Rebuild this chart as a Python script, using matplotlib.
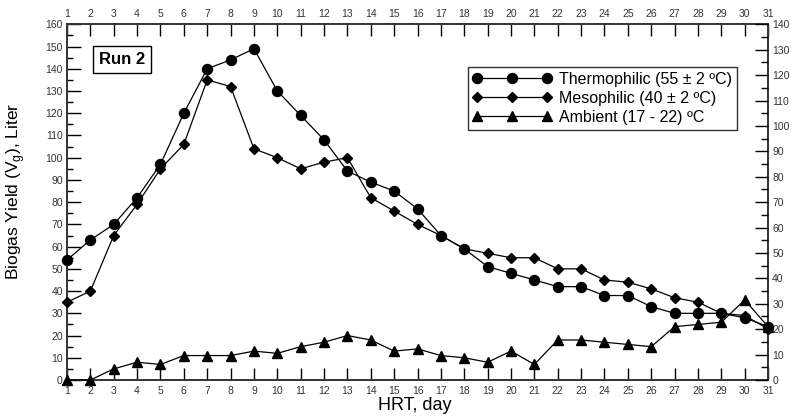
import matplotlib
matplotlib.use("Agg")
import matplotlib.pyplot as plt
from matplotlib.ticker import MultipleLocator

plt.rcParams['font.family'] = ['Liberation Sans', 'DejaVu Sans']

days = list(range(1, 32))
thermophilic = [54, 63, 70, 82, 97, 120, 140, 144, 149, 130, 119, 108, 94, 89, 85, 77,
                65, 59, 51, 48, 45, 42, 42, 38, 38, 33, 30, 30, 30, 28, 24]
mesophilic = [35, 40, 65, 79, 95, 106, 135, 132, 104, 100, 95, 98, 100, 82, 76, 70,
              65, 59, 57, 55, 55, 50, 50, 45, 44, 41, 37, 35, 30, 29, 23]
ambient = [0, 0, 5, 8, 7, 11, 11, 11, 13, 12, 15, 17, 20, 18, 13, 14,
           11, 10, 8, 13, 7, 18, 18, 17, 16, 15, 24, 25, 26, 36, 24]

labels = ["Thermophilic (55 \u00b1 2 \u00baC)", "Mesophilic (40 \u00b1 2 \u00baC)",
          "Ambient (17 - 22) \u00baC"]

fig = plt.figure(figsize=(7.91, 4.16), dpi=100)
ax = fig.add_axes([0.0847, 0.0865, 0.8863, 0.8551])

ax.plot(days, thermophilic, color='black', lw=0.9, marker='o', ms=7.2,
        label=labels[0], clip_on=False, zorder=3)
ax.plot(days, mesophilic, color='black', lw=0.9, marker='D', ms=5.0,
        label=labels[1], clip_on=False, zorder=3)
ax.plot(days, ambient, color='black', lw=0.9, marker='^', ms=7.0,
        label=labels[2], clip_on=False, zorder=3)

ax.set_xlim(1, 31)
ax.set_ylim(0, 160)
ax.xaxis.set_major_locator(MultipleLocator(1))
ax.yaxis.set_major_locator(MultipleLocator(10))
ax.yaxis.set_minor_locator(MultipleLocator(5))

tick_color = '#333333'
ax.tick_params(axis='x', which='major', direction='in', length=8.6, width=1.0,
               top=True, labeltop=True, bottom=True, labelbottom=True,
               labelsize=7.5, labelcolor=tick_color, pad=4)
ax.tick_params(axis='y', which='major', direction='in', length=10, width=1.0,
               labelsize=7.5, labelcolor=tick_color, pad=3, right=False)
ax.tick_params(axis='y', which='minor', direction='in', length=4.5, width=1.0, right=False)

for s in ax.spines.values():
    s.set_linewidth(1.4)
    s.set_color('#333333')

ax2 = ax.twinx()
ax2.set_ylim(0, 140)
ax2.yaxis.set_major_locator(MultipleLocator(10))
ax2.yaxis.set_minor_locator(MultipleLocator(5))
ax2.tick_params(axis='y', which='major', direction='in', length=9.5, width=1.0,
                labelsize=7.5, labelcolor=tick_color, pad=3)
ax2.tick_params(axis='y', which='minor', direction='in', length=5, width=1.0)
for s in ax2.spines.values():
    s.set_visible(False)

ax.set_ylabel("Biogas Yield (V$_{\\mathregular{g}}$), Liter", fontsize=12.5)
ax.yaxis.set_label_coords(-0.057, 0.53)
ax.set_xlabel("HRT, day", fontsize=13)
ax.xaxis.set_label_coords(0.496, -0.047)

ax.text(0.079, 0.901, "Run 2", transform=ax.transAxes, fontsize=12,
        fontweight='bold', ha='center', va='center',
        bbox=dict(boxstyle='square,pad=0.35', fc='white', ec='black', lw=1.0))

leg = ax.legend(loc='upper right', bbox_to_anchor=(0.956, 0.88), borderaxespad=0,
                fontsize=11.5, numpoints=3, handlelength=5.0, handletextpad=0.45,
                labelspacing=0.25, borderpad=0.3, frameon=True, fancybox=False)
leg.get_frame().set_edgecolor('black')
leg.get_frame().set_linewidth(1.0)

fig.savefig("out.png", dpi=100)
